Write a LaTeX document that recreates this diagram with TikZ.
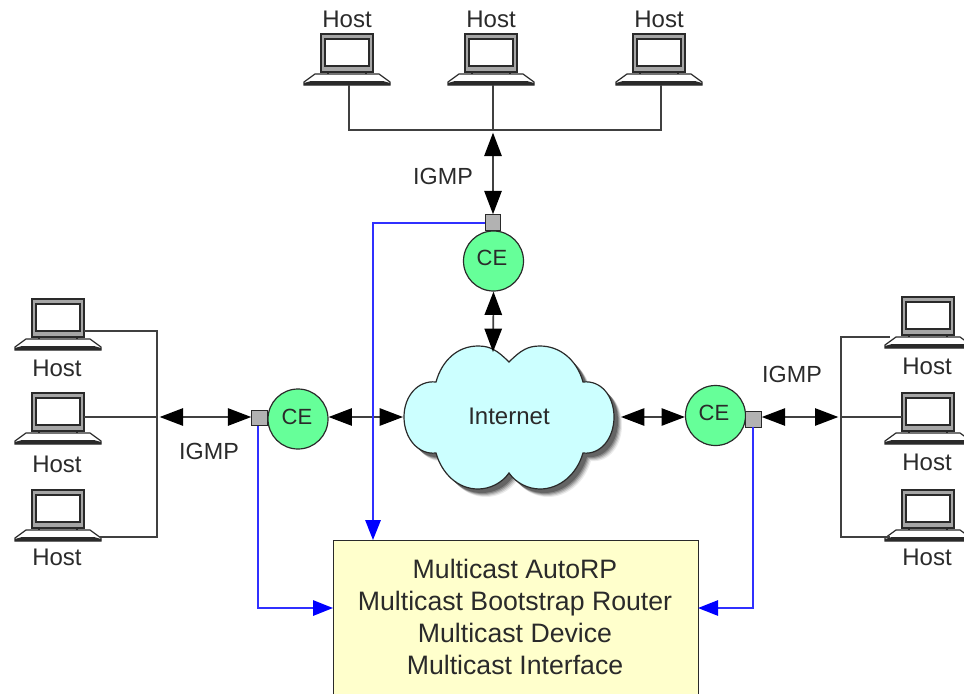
\documentclass[tikz,border=0pt]{standalone}
\usepackage{fontspec}
\setmainfont{Liberation Sans}
\usetikzlibrary{arrows.meta}
\definecolor{ink}{HTML}{2A2A2A}
\definecolor{wire}{HTML}{404040}
\definecolor{ceg}{HTML}{66FF99}
\definecolor{sqg}{HTML}{B2B2B2}
\definecolor{cloudc}{HTML}{CCFFFF}
\definecolor{boxc}{HTML}{FFFFCC}
\definecolor{lineblue}{HTML}{3030FF}
\tikzset{
  x=0.75pt,y=-0.75pt,
  wireline/.style={draw=wire,line width=1.1pt},
  igmparrow/.style={draw=wire,line width=1.2pt,{Triangle[length=17.5pt,width=13pt,color=black,fill=black]}-{Triangle[length=17.5pt,width=13pt,color=black,fill=black]}},
  blueline/.style={draw=lineblue,line width=1.5pt,-{Triangle[length=15pt,width=11.5pt,color=blue,fill=blue]}},
  ce/.style={circle,draw=ink,fill=ceg,line width=0.9pt,minimum size=45pt,inner sep=0pt},
  port/.style={rectangle,draw=ink,fill=sqg,line width=0.9pt,minimum size=11.5pt,inner sep=0pt},
  hostlabel/.style={text=ink,font=\fontsize{18}{20}\selectfont,inner sep=0pt},
  igmplabel/.style={text=ink,font=\fontsize{17.5}{20}\selectfont,inner sep=0pt},
  celabel/.style={text=ink,font=\fontsize{16.5}{18}\selectfont},
}
\newcommand{\laptop}[3]{%
  \begin{scope}[shift={(#2,#3)}]
    \filldraw[draw=ink,fill=white,line width=0.9pt] (-32,40)--(32,40)--(43,48)--(43,51)--(-43,51)--(-43,48)--cycle;
    \fill[ink] (-36,47)--(36,47)--(43,49)--(43,51)--(-43,51)--(-43,49)--cycle;
    \draw[ink,line width=0.9pt] (-19,38)--(-19,40) (19,38)--(19,40);
    \filldraw[draw=ink,fill=black!35,line width=1.1pt] (-26,0) rectangle (26,38);
    \filldraw[draw=ink,fill=white,line width=0.8pt] (-22,5) rectangle (22,32);
  \end{scope}}
\newcommand{\cloudpath}{
    (509,362) .. controls (497,350) and (490,346) .. (478,346)
    .. controls (458,346) and (442,360) .. (436,382)
    .. controls (418,380) and (404,396) .. (404,417)
    .. controls (404,438) and (418,455) .. (436,453)
    .. controls (442,474) and (458,489) .. (478,489)
    .. controls (490,489) and (502,483) .. (509,473)
    .. controls (516,483) and (528,489) .. (540,489)
    .. controls (560,489) and (577,474) .. (583,453)
    .. controls (601,455) and (614,438) .. (614,417)
    .. controls (614,396) and (601,380) .. (583,382)
    .. controls (577,360) and (560,346) .. (540,346)
    .. controls (528,346) and (521,350) .. (509,362) -- cycle}
\begin{document}
\begin{tikzpicture}
\useasboundingbox (0,0) rectangle (964,693);
\clip (0,0) rectangle (964,693);

% hosts
\laptop{t1}{347}{34}\laptop{t2}{491}{34}\laptop{t3}{659}{34}
\laptop{l1}{58}{299}\laptop{l2}{58}{393}\laptop{l3}{58}{490}
\laptop{r1}{928}{297}\laptop{r2}{928}{393}\laptop{r3}{928}{490}
\node[hostlabel] (ht1) at (347,19) {Host};
\node[hostlabel] (ht2) at (491,19) {Host};
\node[hostlabel] (ht3) at (659,19) {Host};
\node[hostlabel] (hl1) at (57,368) {Host};
\node[hostlabel] (hl2) at (57,464) {Host};
\node[hostlabel] (hl3) at (57,557) {Host};
\node[hostlabel] (hr1) at (927,366) {Host};
\node[hostlabel] (hr2) at (927,462) {Host};
\node[hostlabel] (hr3) at (927,557) {Host};

% anchors on the hosts and buses
\coordinate (t1b) at (349,85);
\coordinate (t2b) at (493,85);
\coordinate (t3b) at (661,85);
\coordinate (busT) at (493,130);
\coordinate (l1e) at (84,331);
\coordinate (l2e) at (84,417);
\coordinate (l3e) at (100,537);
\coordinate (busL) at (157,417);
\coordinate (r1e) at (890,337);
\coordinate (r2e) at (902,417);
\coordinate (r3e) at (890,537);
\coordinate (busR) at (841,417);

% cloud with soft shadow
\foreach \o/\c in {8/08,7/12,6/16,5/22,4/26}{
  \fill[black,opacity=0.\c,shift={(\o,\o)}] \cloudpath;
}
\filldraw[draw=ink,fill=cloudc,line width=0.9pt] \cloudpath;
\node[hostlabel] (internet) at (509,416) {Internet};
\coordinate (cloudN) at (493,352);
\coordinate (cloudW) at (403,417);
\coordinate (cloudE) at (621,417);

% box
\node[draw=ink,fill=boxc,line width=1.1pt,rectangle,minimum width=273.75pt,minimum height=150pt,inner sep=0pt,anchor=north west] (mbox) at (333,540) {};
\node[text=ink,align=center,font=\fontsize{20}{24}\selectfont,inner sep=0pt] (mtext) at (515,617)
  {Multicast AutoRP\\Multicast Bootstrap Router\\Multicast Device\\Multicast Interface};
\coordinate (entryT) at (373,540);
\coordinate (entryL) at (333,608);
\coordinate (entryR) at (698,608);
\coordinate (exitL) at (258,426);
\coordinate (exitR) at (753,427);

% CE routers and ports
\node[ce] (ceT) at (493.5,261) {};
\node[celabel] (ceTl) at (492,258) {CE};
\node[ce] (ceL) at (298,419) {};
\node[celabel] (ceLl) at (297,417) {CE};
\node[ce] (ceR) at (715.5,415.5) {};
\node[celabel] (ceRl) at (714,413) {CE};
\node[port] (sqT) at (493,222.5) {};
\node[port] (sqL) at (259.5,418) {};
\node[port] (sqR) at (753.5,419.5) {};

% wires
\draw[wireline] (t1b) |- (busT) -| (t3b);
\draw[wireline] (t2b) -- (busT);
\draw[wireline] (l1e) -| (busL);
\draw[wireline] (l3e) -| (busL);
\draw[wireline] (l2e) -- (busL);
\draw[wireline] (r1e) -| (busR);
\draw[wireline] (r3e) -| (busR);
\draw[wireline] (r2e) -- (busR);

% IGMP / data arrows
\draw[igmparrow,shorten <=2pt] (busT) -- (sqT.north);
\draw[igmparrow] (ceT.south) -- (cloudN);
\draw[igmparrow,shorten <=2pt] (busL) -- (sqL.west |- busL);
\draw[igmparrow] (ceL.east |- busL) -- (cloudW);
\draw[igmparrow] (cloudE) -- (ceR.west |- cloudE);
\draw[igmparrow,shorten >=2pt] (sqR.east |- busR) -- (busR);

% blue links
\draw[blueline] (sqT.west) -| (entryT);
\draw[blueline] (exitL) |- (entryL);
\draw[blueline,line width=1.2pt] (exitR) |- (entryR);

\node[igmplabel] (igT) at (443,176) {IGMP};
\node[igmplabel] (igL) at (209,451) {IGMP};
\node[igmplabel] (igR) at (792,374) {IGMP};
\end{tikzpicture}
\end{document}
